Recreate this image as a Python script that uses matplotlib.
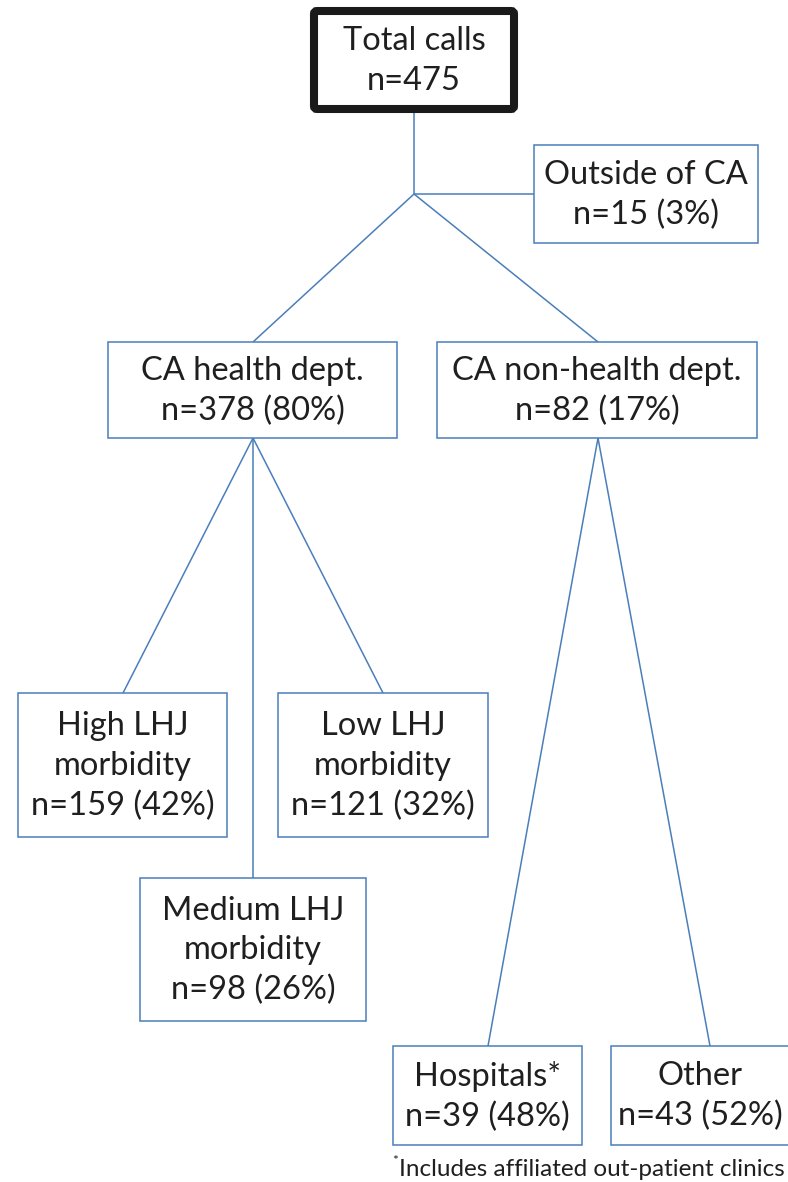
import matplotlib
matplotlib.use("Agg")
import matplotlib.pyplot as plt
from matplotlib.patches import Rectangle, FancyBboxPatch

# ---- data ----
node_titles = ["Total calls", "Outside of CA", "CA health dept.", "CA non-health dept.",
               "High LHJ\nmorbidity", "Low LHJ\nmorbidity", "Medium LHJ\nmorbidity",
               "Hospitals*", "Other"]
node_counts = [475, 15, 378, 82, 159, 121, 98, 39, 43]
node_pcts = [None, 3, 80, 17, 42, 32, 26, 48, 52]
footnote = "Includes affiliated out-patient clinics"

# ---- layout (pixels: x0, y0, x1, y1) ----
boxes = [
    (314, 11, 514, 109),
    (534, 145, 758, 243),
    (108, 342, 397, 438),
    (437, 342, 757, 438),
    (18, 693, 227, 837),
    (278, 693, 488, 837),
    (140, 878, 366, 1021),
    (393, 1046, 582, 1145),
    (611, 1046, 790, 1145),
]
junction = (414, 194)

W, H, DPI = 788, 1182, 100
fig = plt.figure(figsize=(W / DPI, H / DPI), dpi=DPI)
ax = fig.add_axes([0, 0, 1, 1])
ax.set_xlim(0, W)
ax.set_ylim(H, 0)
ax.axis("off")

blue = "#4a7ebb"
txt = "#1f1f1f"
font = "Lato"
fs = 23.5
lw = 1.1

def line(p, q):
    ax.plot([p[0], q[0]], [p[1], q[1]], color=blue, lw=lw, solid_capstyle="butt", zorder=1)

# edges
line((414, 109), junction)
line(junction, (534, 194))
line(junction, (253, 342))
line(junction, (598, 342))
line((253, 438), (123, 693))
line((253, 438), (253, 878))
line((253, 438), (383, 693))
line((598, 438), (488, 1046))
line((598, 438), (710, 1046))

for i, (x0, y0, x1, y1) in enumerate(boxes):
    if i == 0:
        p = FancyBboxPatch((x0, y0), x1 - x0, y1 - y0, boxstyle="round,pad=0,rounding_size=3",
                           fc="white", ec="#1a1a1a", lw=5.8, zorder=2)
    else:
        p = Rectangle((x0, y0), x1 - x0, y1 - y0, fc="white", ec=blue, lw=lw, zorder=2)
    ax.add_patch(p)
    if node_pcts[i] is None:
        s = f"{node_titles[i]}\nn={node_counts[i]}"
    else:
        s = f"{node_titles[i]}\nn={node_counts[i]} ({node_pcts[i]}%)"
    ax.text((x0 + x1) / 2, (y0 + y1) / 2 + 1, s, ha="center", va="center", fontsize=fs,
            family=font, color=txt, linespacing=1.4, zorder=3)

ft = ax.text(785, 1169, footnote, ha="right", va="center", fontsize=17.5, family=font, color=txt)
fig.canvas.draw()
bb = ft.get_window_extent()
inv = ax.transData.inverted()
xl = inv.transform((bb.x0, bb.y0))[0]
ax.text(xl - 1, 1161, "*", ha="right", va="center", fontsize=10, family=font, color=txt)

fig.savefig("out.png", dpi=DPI, facecolor="white")
